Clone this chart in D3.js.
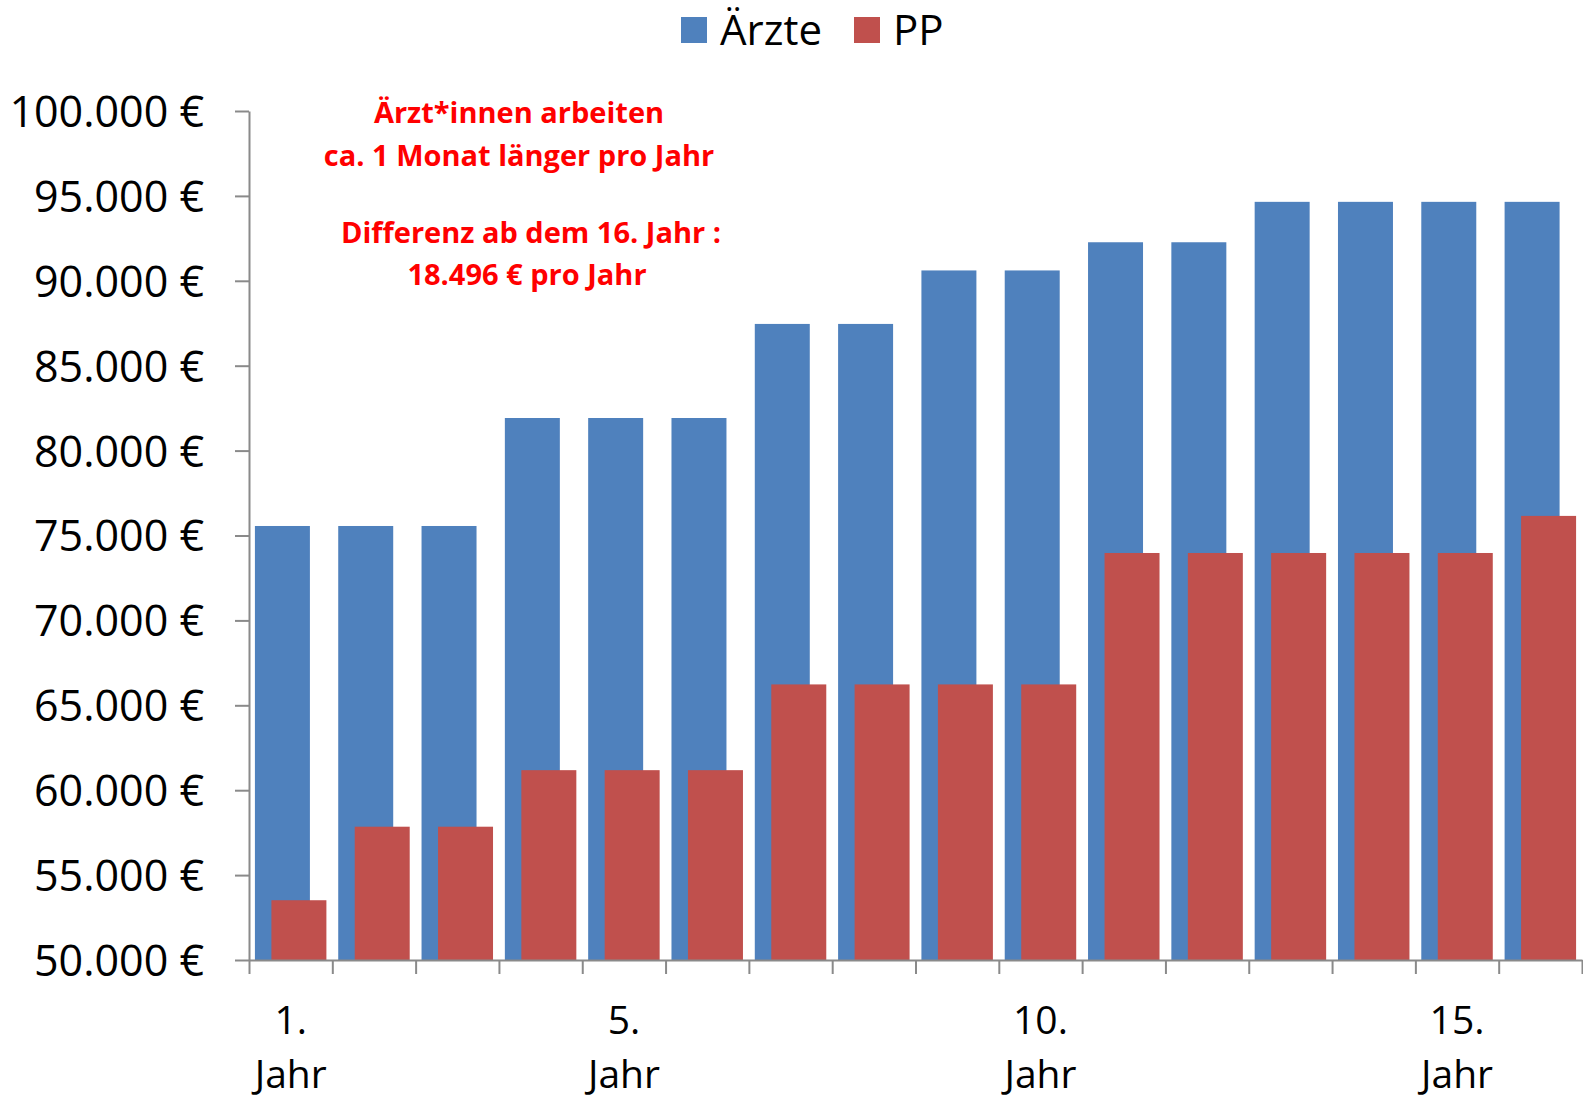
<!DOCTYPE html>
<html>
<head>
<meta charset="utf-8">
<script src="https://cdn.jsdelivr.net/npm/d3@7/dist/d3.min.js"></script>
<style>
    body { margin: 0; background: #fff; }
    text { font-family: "Open Sans", sans-serif; }
</style>
</head>
<body>
<div class="chart-wrapper"></div>
<script>
// Jahreseinkommen Ärzte vs. PP, 1. bis 16. Jahr
var categories = ["1", "2", "3", "4", "5", "6", "7", "8", "9", "10", "11", "12", "13", "14", "15", "16"];
var xLabels = ["1. Jahr", "", "", "", "5. Jahr", "", "", "", "", "10. Jahr", "", "", "", "", "15. Jahr", ""];
var aerzte = [75560, 75560, 75560, 81920, 81920, 81920, 87460, 87460, 90610, 90610, 92270, 92270, 94650, 94650, 94650, 94650];
var pp = [53520, 57850, 57850, 61180, 61180, 61180, 66230, 66230, 66230, 66230, 73970, 73970, 73970, 73970, 73970, 76154];
var yTicks = [50000, 55000, 60000, 65000, 70000, 75000, 80000, 85000, 90000, 95000, 100000];
var seriesNames = ["Ärzte", "PP"];
var noteLines = ["Ärzt*innen arbeiten", "ca. 1 Monat länger pro Jahr", "Differenz ab dem 16. Jahr :", "18.496 € pro Jahr"];

var colors = {"Ärzte": "#4f81bd", "PP": "#c0504d"};
var axisColor = "#8a8a8a";

var width = 1583, height = 1100;
var plot = {left: 249, right: 1582, top: 111, bottom: 960};

var de = d3.formatLocale({decimal: ",", thousands: ".", grouping: [3], currency: ["", " €"]});
var fmt = de.format("$,.0f");

var svg = d3.select(".chart-wrapper").append("svg")
        .attr("width", width)
        .attr("height", height)
        .style("background-color", "#fff");

var x = d3.scaleBand()
        .domain(categories)
        .range([plot.left, plot.right])
        .paddingInner(0).paddingOuter(0);
var xLin = d3.scaleLinear()
        .domain([0, categories.length])
        .range([plot.left, plot.right]);
var y = d3.scaleLinear()
        .domain([50000, 100000])
        .range([plot.bottom, plot.top]);

var bw = x.bandwidth();
var barW = bw * 0.66,
    shift = bw * 0.198,
    gap = (bw - barW - shift) / 2;

// bars: Ärzte first, PP drawn on top (70% overlap)
svg.append("g").attr("class", "bars-aerzte")
        .selectAll("rect")
        .data(aerzte)
        .enter().append("rect")
        .attr("x", function (d, i) { return x(categories[i]) + gap; })
        .attr("y", function (d) { return y(d); })
        .attr("width", barW)
        .attr("height", function (d) { return y(50000) - y(d); })
        .style("fill", colors["Ärzte"]);

svg.append("g").attr("class", "bars-pp")
        .selectAll("rect")
        .data(pp)
        .enter().append("rect")
        .attr("x", function (d, i) { return x(categories[i]) + gap + shift; })
        .attr("y", function (d) { return y(d); })
        .attr("width", barW)
        .attr("height", function (d) { return y(50000) - y(d); })
        .style("fill", colors["PP"]);

// y axis
var gy = svg.append("g")
        .attr("transform", "translate(" + plot.left + ",0)")
        .call(d3.axisLeft(y).tickValues(yTicks).tickSize(14).tickSizeOuter(0).tickPadding(31).tickFormat(fmt));
gy.selectAll("path, line").style("stroke", axisColor).style("stroke-width", 2);
gy.selectAll("text")
        .style("font-family", "'Open Sans', sans-serif")
        .style("font-size", "43px")
        .style("fill", "#000")
        .attr("dy", "0.36em");

// x axis: ticks on category borders
var gx = svg.append("g")
        .attr("transform", "translate(0," + plot.bottom + ")")
        .call(d3.axisBottom(xLin).tickValues(d3.range(categories.length + 1)).tickSize(14).tickSizeOuter(0).tickFormat(""));
gx.selectAll("path, line").style("stroke", axisColor).style("stroke-width", 2);

// x labels, two lines each
var gxl = svg.append("g")
        .attr("transform", "translate(0," + plot.bottom + ")")
        .call(d3.axisBottom(x).tickSize(0).tickFormat(function (d, i) { return xLabels[i]; }));
gxl.select(".domain").remove();
gxl.selectAll("text").each(function (d, i) {
    var t = d3.select(this), parts = xLabels[i].split(" ");
    t.text(null).attr("y", 0).attr("dy", null)
            .style("font-size", "39px").style("fill", "#000");
    if (!xLabels[i]) return;
    t.append("tspan").attr("x", 0).attr("y", 74).text(parts[0]);
    t.append("tspan").attr("x", 0).attr("y", 128).text(parts[1]);
});

// legend
var legend = svg.append("g").attr("class", "legend");
var legX = [681, 854];
seriesNames.forEach(function (name, i) {
    legend.append("rect")
            .attr("x", legX[i]).attr("y", 17)
            .attr("width", 26).attr("height", 26)
            .style("fill", colors[name]);
    legend.append("text")
            .attr("x", legX[i] + 39).attr("y", 45)
            .style("font-size", "42px")
            .text(name);
});

// annotation
var notePos = [[519, 123], [519, 166], [531, 243], [527, 285]];
svg.append("g").attr("class", "note")
        .selectAll("text")
        .data(noteLines)
        .enter().append("text")
        .attr("x", function (d, i) { return notePos[i][0]; })
        .attr("y", function (d, i) { return notePos[i][1]; })
        .attr("text-anchor", "middle")
        .style("font-size", "29px")
        .style("font-weight", "bold")
        .style("fill", "#ff0000")
        .text(function (d) { return d; });
</script>
</body>
</html>
